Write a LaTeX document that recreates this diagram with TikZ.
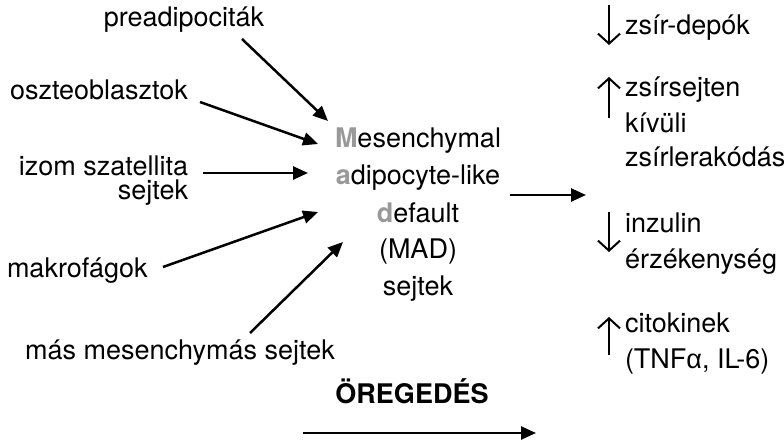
\documentclass[tikz,border=0pt]{standalone}
\usepackage{fontspec}
\setmainfont{TeX Gyre Heros}
\newfontfamily\greekfont{Liberation Sans}
\usetikzlibrary{arrows.meta}
\definecolor{initgray}{HTML}{999999}
\tikzset{
  lbl/.style={inner sep=0pt, outer sep=0pt, font=\fontsize{27}{34}\selectfont},
  feed/.style={line width=2.5pt, -{Triangle[length=15pt,width=13pt]}},
  trend/.style={line width=2pt, -{Straight Barb[length=10pt,width=22pt,line width=2pt]}},
}
\newcommand{\initial}[1]{{\bfseries\color{initgray}#1}}
\begin{document}
\begin{tikzpicture}[x=1pt,y=-1pt]
\useasboundingbox (0,0) rectangle (784,441);

% source cell types
\node[lbl, anchor=base] (pre) at (184,27) {preadipociták};
\node[lbl, anchor=base west] (oszt) at (10,100) {oszteoblasztok};
\node[lbl, anchor=base east] (izom1) at (188,175) {izom szatellita};
\node[lbl, anchor=base east] (izom2) at (188,199) {sejtek};
\node[lbl, anchor=base west] (makro) at (7,277) {makrofágok};
\node[lbl, anchor=base] (mas) at (180,359) {más mesenchymás sejtek};

% MAD cells
\node[lbl, anchor=base] (m1) at (418,147) {\initial{M}esenchymal};
\node[lbl, anchor=base] (m2) at (418,184) {\initial{a}dipocyte-like};
\node[lbl, anchor=base] (m3) at (418,222) {\initial{d}efault};
\node[lbl, anchor=base] (m4) at (418,258) {(MAD)};
\node[lbl, anchor=base] (m5) at (418,295) {sejtek};

% consequences
\node[lbl, anchor=base west] (r1) at (625,35) {zsír-depók};
\node[lbl, anchor=base west] (r2) at (625,97) {zsírsejten};
\node[lbl, anchor=base west] (r3) at (625,132) {kívüli};
\node[lbl, anchor=base west] (r4) at (625,166) {zsírlerakódás};
\node[lbl, anchor=base west] (r5) at (625,232) {inzulin};
\node[lbl, anchor=base west] (r6) at (625,268) {érzékenység};
\node[lbl, anchor=base west] (r7) at (625,332) {citokinek};
\node[lbl, anchor=base west] (r8) at (625,368) {(TNF{\greekfont α}, IL-6)};

% ageing
\node[lbl, anchor=base, font=\fontsize{27}{34}\selectfont\bfseries] (age) at (412,403) {ÖREGEDÉS};

% arrow end points
\coordinate (preS) at (242,39);   \coordinate (preE) at (328,121);
\coordinate (osztS) at (200,102); \coordinate (osztE) at (318,144);
\coordinate (izomS) at (203,173); \coordinate (izomE) at (308,173);
\coordinate (makroS) at (163,267);\coordinate (makroE) at (318,212);
\coordinate (masS) at (250,333);  \coordinate (masE) at (343,242);
\coordinate (madS) at (510,195);  \coordinate (madE) at (586,195);
\coordinate (ageS) at (303,433);  \coordinate (ageE) at (536,433);

\draw[feed] (preS) -- (preE);
\draw[feed] (osztS) -- (osztE);
\draw[feed] (izomS) -- (izomE);
\draw[feed] (makroS) -- (makroE);
\draw[feed] (masS) -- (masE);
\draw[feed] (madS) -- (madE);
\draw[feed] (ageS) -- (ageE);

% up / down trend arrows
\coordinate (t1a) at (609,5);   \coordinate (t1b) at (609,45);
\coordinate (t2a) at (609,118); \coordinate (t2b) at (609,77);
\coordinate (t3a) at (609,212); \coordinate (t3b) at (609,252);
\coordinate (t4a) at (609,355); \coordinate (t4b) at (609,317);
\draw[trend] (t1a) -- (t1b);
\draw[trend] (t2a) -- (t2b);
\draw[trend] (t3a) -- (t3b);
\draw[trend] (t4a) -- (t4b);
\end{tikzpicture}
\end{document}
